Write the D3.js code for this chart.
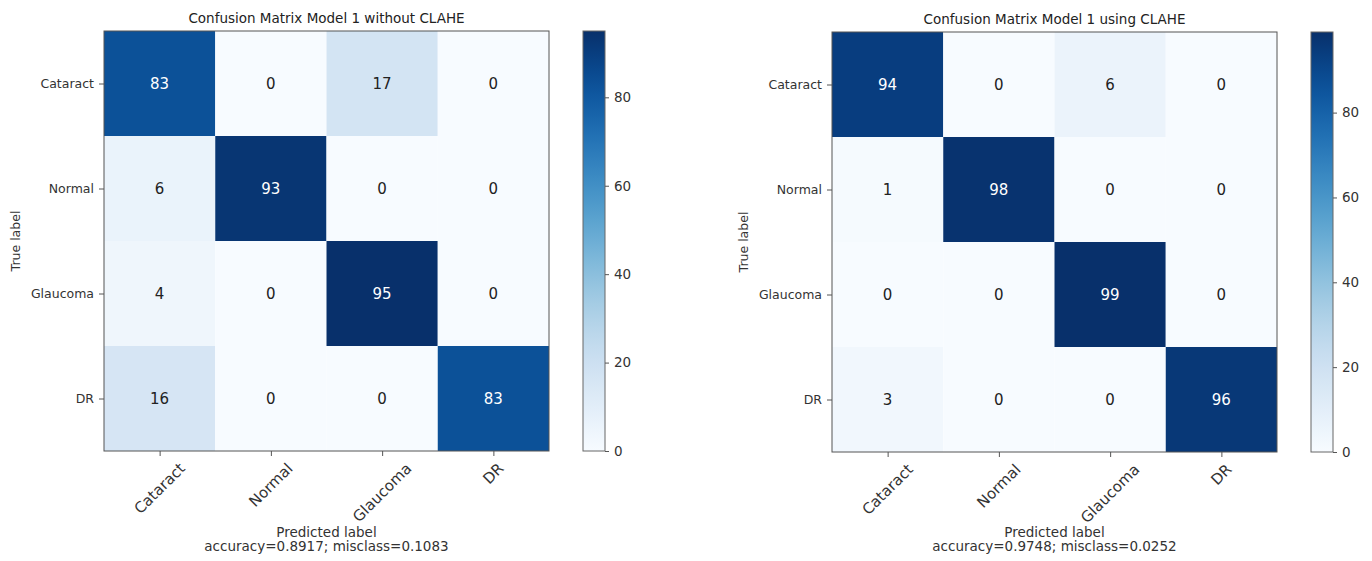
<!DOCTYPE html>
<html>
<head>
<meta charset="utf-8">
<script src="https://cdn.jsdelivr.net/npm/d3@7"></script>
<style>
  html, body { margin: 0; padding: 0; background: #ffffff; }
  svg text { font-family: "DejaVu Sans", sans-serif; fill: #333; }
</style>
</head>
<body>
<svg id="chart" width="1372" height="561"></svg>
<script>
// Class names shared by both confusion matrices (rows = true, columns = predicted)
const classes = ["Cataract", "Normal", "Glaucoma", "DR"];

// Counts for the model trained without CLAHE preprocessing
const matrixWithoutClahe = [
  [83, 0, 17, 0],
  [6, 93, 0, 0],
  [4, 0, 95, 0],
  [16, 0, 0, 83]
];

// Counts for the model trained with CLAHE preprocessing
const matrixWithClahe = [
  [94, 0, 6, 0],
  [1, 98, 0, 0],
  [0, 0, 99, 0],
  [3, 0, 0, 96]
];

const panelTitles = ["Confusion Matrix Model 1 without CLAHE", "Confusion Matrix Model 1 using CLAHE"];
const colorbarTicks = [0, 20, 40, 60, 80];

const svg = d3.select("#chart");
svg.append("rect").attr("width", 1372).attr("height", 561).attr("fill", "#ffffff");

const defs = svg.append("defs");

const panels = [
  { matrix: matrixWithoutClahe, title: panelTitles[0], x0: 104, y0: 31, cbX: 583 },
  { matrix: matrixWithClahe, title: panelTitles[1], x0: 832, y0: 32, cbX: 1311 }
];

const heatW = 445, heatH = 420, cbW = 22;
const fmt = d3.format(".4f");

panels.forEach((p, pi) => {
  const cm = p.matrix;
  const maxVal = d3.max(cm.flat());
  const color = d3.scaleSequential(d3.interpolateBlues).domain([0, maxVal]);

  const x = d3.scaleBand().domain(d3.range(classes.length)).range([p.x0, p.x0 + heatW]);
  const y = d3.scaleBand().domain(d3.range(classes.length)).range([p.y0, p.y0 + heatH]);

  const g = svg.append("g");

  // Title
  g.append("text")
    .attr("x", p.x0 + heatW / 2).attr("y", p.y0 - 8)
    .attr("text-anchor", "middle")
    .style("font-size", "13.5px").style("fill", "#222")
    .text(p.title);

  // Cells
  const cells = [];
  cm.forEach((row, i) => row.forEach((v, j) => cells.push({ i, j, v })));
  g.selectAll("rect.cell").data(cells).join("rect")
    .attr("class", "cell")
    .attr("x", d => x(d.j)).attr("y", d => y(d.i))
    .attr("width", x.bandwidth()).attr("height", y.bandwidth())
    .attr("fill", d => color(d.v));

  // Cell values (white text above half of the maximum)
  const thresh = maxVal / 2;
  g.selectAll("text.val").data(cells).join("text")
    .attr("class", "val")
    .attr("x", d => x(d.j) + x.bandwidth() / 2)
    .attr("y", d => y(d.i) + y.bandwidth() / 2)
    .attr("text-anchor", "middle")
    .attr("dominant-baseline", "central")
    .style("font-size", "15px")
    .style("fill", d => d.v > thresh ? "#ffffff" : "#222")
    .text(d => d.v);

  // Frame
  g.append("rect")
    .attr("x", p.x0).attr("y", p.y0).attr("width", heatW).attr("height", heatH)
    .attr("fill", "none").attr("stroke", "#555").attr("stroke-width", 1);

  // Y axis (true label)
  const yAxis = d3.axisLeft(d3.scalePoint().domain(classes).range([y(0) + y.bandwidth() / 2, y(3) + y.bandwidth() / 2]))
    .tickSize(5).tickPadding(5);
  const ya = g.append("g").attr("transform", `translate(${p.x0},0)`).call(yAxis);
  ya.select(".domain").remove();
  ya.selectAll("line").attr("stroke", "#555");
  ya.selectAll("text").style("font-size", "12.5px").style("font-family", "DejaVu Sans, sans-serif").style("fill", "#333");

  // X axis ticks (predicted label)
  const xAxis = d3.axisBottom(d3.scalePoint().domain(classes).range([x(0) + x.bandwidth() / 2, x(3) + x.bandwidth() / 2]))
    .tickSize(5).tickFormat("");
  const xa = g.append("g").attr("transform", `translate(0,${p.y0 + heatH})`).call(xAxis);
  xa.select(".domain").remove();
  xa.selectAll("line").attr("stroke", "#555");

  // Rotated x tick labels, bounding box centred under each tick
  const labelTop = p.y0 + heatH + 11;
  classes.forEach((c, j) => {
    const t = g.append("text")
      .attr("text-anchor", "middle")
      .attr("dominant-baseline", "central")
      .style("font-size", "15px")
      .text(c);
    const w = t.node().getComputedTextLength();
    const h = 11;
    const half = (w + h) / (2 * Math.SQRT2);
    const cx = x(j) + x.bandwidth() / 2, cy = labelTop + half;
    t.attr("transform", `translate(${cx},${cy}) rotate(-45)`);
  });

  // Axis titles
  g.append("text")
    .attr("transform", `translate(${p.x0 - 89},${p.y0 + heatH / 2}) rotate(-90)`)
    .attr("text-anchor", "middle")
    .attr("dominant-baseline", "central")
    .style("font-size", "12.5px")
    .text("True label");

  const total = d3.sum(cm.flat());
  const correct = d3.sum(cm.map((r, i) => r[i]));
  const acc = correct / total;
  g.append("text")
    .attr("x", p.x0 + heatW / 2).attr("y", 537)
    .attr("text-anchor", "middle")
    .style("font-size", "13.5px")
    .text("Predicted label");
  g.append("text")
    .attr("x", p.x0 + heatW / 2).attr("y", 551)
    .attr("text-anchor", "middle")
    .style("font-size", "13.5px")
    .text(`accuracy=${fmt(acc)}; misclass=${fmt(1 - acc)}`);

  // Colorbar
  const gradId = "cbgrad" + pi;
  const grad = defs.append("linearGradient").attr("id", gradId)
    .attr("x1", 0).attr("y1", 1).attr("x2", 0).attr("y2", 0);
  d3.range(0, 1.0001, 0.05).forEach(t => {
    grad.append("stop").attr("offset", t).attr("stop-color", color(t * maxVal));
  });
  g.append("rect")
    .attr("x", p.cbX).attr("y", p.y0).attr("width", cbW).attr("height", heatH)
    .attr("fill", `url(#${gradId})`).attr("stroke", "#666").attr("stroke-width", 1);

  const cbScale = d3.scaleLinear().domain([0, maxVal]).range([p.y0 + heatH, p.y0]);
  const cbAxis = d3.axisRight(cbScale).tickValues(colorbarTicks).tickSize(4).tickPadding(5);
  const ca = g.append("g").attr("transform", `translate(${p.cbX + cbW},0)`).call(cbAxis);
  ca.select(".domain").remove();
  ca.selectAll("line").attr("stroke", "#555");
  ca.selectAll("text").style("font-size", "13.5px").style("font-family", "DejaVu Sans, sans-serif").style("fill", "#333");
});
</script>
</body>
</html>
